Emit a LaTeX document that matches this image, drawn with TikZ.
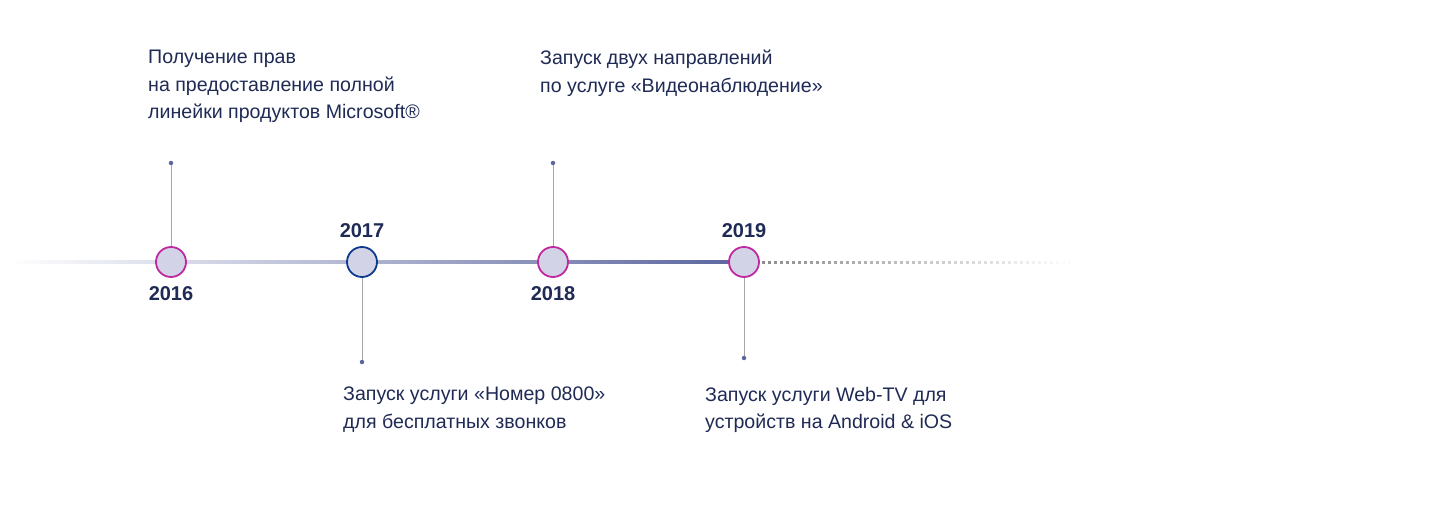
\documentclass[tikz,border=0pt]{standalone}
\usepackage{fontspec}
\setmainfont{Liberation Sans}
\usetikzlibrary{positioning}
\definecolor{navy}{HTML}{1F2A55}
\definecolor{axisblue}{HTML}{5B659E}
\definecolor{ringpink}{HTML}{C0289F}
\definecolor{ringblue}{HTML}{0D3A8E}
\definecolor{discfill}{HTML}{D2D3E6}
\tikzset{>=latex}
\tikzset{
  milestone/.style={circle,draw=ringpink,line width=1.8pt,fill=discfill,
    minimum size=30pt,inner sep=0pt},
  year/.style={font=\fontsize{20}{22}\selectfont\bfseries,text=navy,inner sep=0pt},
  caption/.style={font=\fontsize{19.6}{27.5}\selectfont,text=navy,
    align=left,anchor=north west,inner sep=0pt},
  pin/.style={circle,fill=axisblue,minimum size=4.5pt,inner sep=0pt},
  stem/.style={draw=black!35,line width=0.8pt},
}
\begin{document}
\begin{tikzpicture}[x=1pt,y=-1pt]
  \useasboundingbox (0,0) rectangle (1440,524);
  % axis
  \shade[left color=white,right color=axisblue] (8,260.5) rectangle (744,263.5);
  \foreach \i in {0,...,51}
    \fill[black!45,opacity={1-\i/52}] ({762+6*\i},260.8) rectangle ++(3,3);
  % milestones
  \node[milestone] (m16) at (171,262) {};
  \node[milestone,draw=ringblue] (m17) at (362,262) {};
  \node[milestone] (m18) at (553,262) {};
  \node[milestone] (m19) at (744,262) {};
  \node[year] (y16) at (171,294) {2016};
  \node[year] (y17) at (362,231) {2017};
  \node[year] (y18) at (553,294) {2018};
  \node[year] (y19) at (744,231) {2019};
  % pins
  \node[pin] (p16) at (171,163) {};
  \node[pin] (p17) at (362,362) {};
  \node[pin] (p18) at (553,163) {};
  \node[pin] (p19) at (744,358) {};
  \draw[stem] (m16) -- (p16);
  \draw[stem] (m17) -- (p17);
  \draw[stem] (m18) -- (p18);
  \draw[stem] (m19) -- (p19);
  % captions
  \node[caption] (t16) at (148,50) {Получение прав\\на предоставление полной\\линейки продуктов Microsoft®};
  \node[caption] (t18) at (540,50) {Запуск двух направлений\\по услуге «Видеонаблюдение»};
  \node[caption] (t17) at (343,387) {Запуск услуги «Номер 0800»\\для бесплатных звонков};
  \node[caption] (t19) at (705,387) {Запуск услуги Web-TV для\\устройств на Android \& iOS};
\end{tikzpicture}
\end{document}
